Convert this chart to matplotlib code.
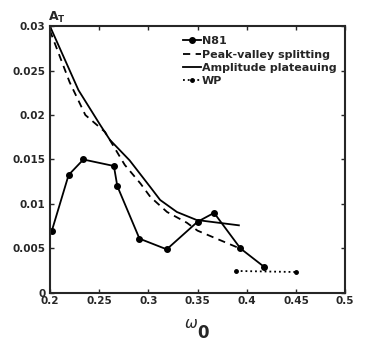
import matplotlib
matplotlib.use('Agg')
import matplotlib.pyplot as plt

# N81 data
n81_w = [0.202, 0.219, 0.234, 0.265, 0.2685, 0.291, 0.3187, 0.350, 0.3668, 0.3936, 0.418]
n81_a = [0.0070, 0.01326, 0.0150, 0.01427, 0.0120, 0.0061, 0.0049, 0.0080, 0.0090, 0.0050, 0.0029]

# peak-valley splitting
pv_w = [0.200, 0.220, 0.236, 0.256, 0.276, 0.292, 0.302, 0.319, 0.339, 0.350, 0.365, 0.393]
pv_a = [0.0295, 0.0237, 0.0200, 0.0181, 0.0144, 0.0123, 0.0108, 0.0091, 0.0079, 0.0070, 0.0063, 0.0050]

# amplitude plateauing
ap_w = [0.200, 0.229, 0.251, 0.261, 0.281, 0.302, 0.312, 0.329, 0.349, 0.392]
ap_a = [0.0300, 0.0228, 0.0189, 0.0172, 0.0149, 0.0119, 0.01045, 0.0091, 0.0082, 0.0076]

# WP
wp_w = [0.389, 0.450]
wp_a = [0.00247, 0.00235]

xticks = [0.2, 0.25, 0.3, 0.35, 0.4, 0.45, 0.5]
xlabels = ['0.2', '0.25', '0.3', '0.35', '0.4', '0.45', '0.5']
yticks = [0, 0.005, 0.01, 0.015, 0.02, 0.025, 0.03]
ylabels = ['0', '0.005', '0.01', '0.015', '0.02', '0.025', '0.03']

gray = '#262626'
plt.rcParams['font.family'] = 'DejaVu Sans'

fig = plt.figure(figsize=(3.81, 3.43), dpi=100)
ax = fig.add_axes([0.131, 0.146, 0.775, 0.778])

ax.plot(n81_w, n81_a, '-o', color='k', lw=1.3, ms=4, label='N81')
ax.plot(pv_w, pv_a, '--', color='k', lw=1.3, dashes=(4, 3), label='Peak-valley splitting')
ax.plot(ap_w, ap_a, '-', color='k', lw=1.3, label='Amplitude plateauing')
ax.plot(wp_w, wp_a, ':o', color='k', lw=1.3, ms=2.5, label='WP')

ax.set_xlim(0.2, 0.5)
ax.set_ylim(0, 0.03)
ax.set_xticks(xticks)
ax.set_xticklabels(xlabels, fontweight='bold')
ax.set_yticks(yticks)
ax.set_yticklabels(ylabels, fontweight='bold')
ax.tick_params(direction='in', length=3, width=1, colors=gray, labelsize=7.5,
               top=True, right=True)
ax.tick_params(axis='x', pad=2.5)
ax.tick_params(axis='y', pad=3)
for s in ax.spines.values():
    s.set_linewidth(1.5)
    s.set_color(gray)

ax.text(-0.008, 1.005, r'$\mathbf{A_T}$', transform=ax.transAxes, fontsize=9,
        color=gray, ha='left', va='bottom')
# x label: omega with a large bold subscript 0
fig.text(0.501, 0.057, r'$\omega$', fontsize=11, color=gray, ha='center', va='center')
fig.text(0.534, 0.029, '0', fontsize=12, fontweight='bold', color=gray,
         ha='center', va='center')

leg = ax.legend(loc='upper right', frameon=False, prop={'size': 8, 'weight': 'bold'},
                handlelength=1.6, handletextpad=0.1, borderaxespad=0.4,
                labelspacing=0.3, bbox_to_anchor=(1.0, 0.995))
for t in leg.get_texts():
    t.set_color(gray)

fig.savefig('out.png', dpi=100)
